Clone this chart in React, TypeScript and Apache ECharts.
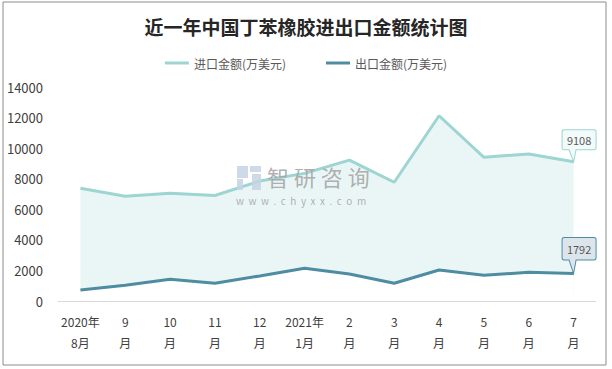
import React, { useEffect, useRef } from "react";
import * as echarts from "echarts";

const categories = ["2020年\n8月", "9\n月", "10\n月", "11\n月", "12\n月", "2021年\n1月", "2\n月", "3\n月", "4\n月", "5\n月", "6\n月", "7\n月"];
const importValues = [7380, 6850, 7050, 6900, 7850, 8350, 9220, 7770, 12120, 9400, 9620, 9108];
const exportValues = [720, 1030, 1420, 1160, 1640, 2140, 1770, 1160, 2030, 1680, 1880, 1792];
const seriesNames = ["进口金额(万美元)", "出口金额(万美元)"];
const title = "近一年中国丁苯橡胶进出口金额统计图";

const calloutPath = "path://M2,0 H32 Q34,0 34,2 V18 Q34,20 32,20 H14 L11.5,32 L7,20 H2 Q0,20 0,18 V2 Q0,0 2,0 Z";

export default function App() {
  const ref = useRef<HTMLDivElement>(null);
  useEffect(() => {
    if (!ref.current) return;
    const chart = echarts.init(ref.current, null, { renderer: "svg" });
    const font = "'Noto Sans CJK SC', 'Noto Sans', sans-serif";
    const last = categories.length - 1;
    chart.setOption({
      animation: false,
      backgroundColor: "#ffffff",
      textStyle: { fontFamily: font },
      title: {
        text: title,
        left: "center",
        top: 12,
        textStyle: { fontSize: 19, fontWeight: "bold", color: "#262626", fontFamily: font },
      },
      legend: {
        top: 52,
        left: "center",
        itemWidth: 24,
        itemHeight: 3,
        itemGap: 40,
        icon: "rect",
        textStyle: { fontSize: 12, color: "#595959", fontFamily: font },
        data: seriesNames,
      },
      graphic: [
        {
          type: "rect",
          shape: { x: 3, y: 2, width: 603, height: 363 },
          style: { fill: "none", stroke: "#8c8c8c", lineWidth: 1 },
          z: 100,
        },
        {
          type: "group",
          z: 50,
          children: [
            { type: "rect", z: 50, shape: { x: 237, y: 166, width: 11, height: 12 }, style: { fill: "#c5d3e3", opacity: 0.85 } },
            { type: "rect", z: 50, shape: { x: 237, y: 179, width: 6, height: 11 }, style: { fill: "#c5d3e3", opacity: 0.85 } },
            { type: "rect", z: 50, shape: { x: 250, y: 166, width: 11, height: 6 }, style: { fill: "#c5d3e3", opacity: 0.85 } },
            { type: "rect", z: 50, shape: { x: 252, y: 174, width: 9, height: 16 }, style: { fill: "#c5d3e3", opacity: 0.85 } },
            {
              type: "text",
              z: 50,
              x: 267,
              y: 165,
              style: { text: "智 研 咨 询", fontSize: 22, fill: "#a6a6a6", opacity: 0.9, fontFamily: font },
            },
            {
              type: "text",
              z: 50,
              x: 236,
              y: 195,
              style: { text: "w  w  w  .  c  h  y  x  x  .  c  o  m", fontSize: 10, fill: "#a6a6a6", opacity: 0.9, fontFamily: font },
            },
          ],
        },
      ],
      grid: { left: 58, right: 16, top: 87, bottom: 68 },
      xAxis: {
        type: "category",
        data: categories,
        boundaryGap: true,
        z: 10,
        axisLine: { show: true, lineStyle: { color: "#d9d9d9", width: 1 } },
        axisTick: { show: false },
        axisLabel: { color: "#404040", fontSize: 12, lineHeight: 21, margin: 10, interval: 0, fontFamily: font },
      },
      yAxis: {
        type: "value",
        min: 0,
        max: 14000,
        interval: 2000,
        axisLine: { show: false },
        axisTick: { show: false },
        splitLine: { show: false },
        axisLabel: { color: "#404040", fontSize: 13, margin: 15, fontFamily: font, formatter: (v: number) => String(v) },
      },
      series: [
        {
          name: seriesNames[0],
          type: "line",
          data: importValues,
          symbol: "none",
          z: 2,
          lineStyle: { color: "#9dd5d2", width: 3 },
          itemStyle: { color: "#9dd5d2" },
          areaStyle: { color: "#eaf6f6", opacity: 1 },
          markPoint: {
            data: [{ coord: [last, importValues[last]], value: importValues[last] }],
            symbol: calloutPath,
            symbolSize: [34, 32],
            symbolOffset: [5.5, -16],
            itemStyle: { color: "#f2fafa", borderColor: "#9dd5d2", borderWidth: 1 },
            label: { show: true, position: "inside", offset: [0, -6], color: "#595959", fontSize: 11, fontWeight: "normal", fontFamily: font },
          },
        },
        {
          name: seriesNames[1],
          type: "line",
          data: exportValues,
          symbol: "none",
          z: 3,
          lineStyle: { color: "#4e8ca1", width: 3 },
          itemStyle: { color: "#4e8ca1" },
          areaStyle: { color: "#ffffff", opacity: 1 },
          markPoint: {
            data: [{ coord: [last, exportValues[last]], value: exportValues[last] }],
            symbol: calloutPath,
            symbolSize: [34, 36],
            symbolOffset: [5.5, -18],
            itemStyle: { color: "#dde5ec", borderColor: "#4e8ca1", borderWidth: 1 },
            label: { show: true, position: "inside", offset: [0, -7], color: "#595959", fontSize: 11, fontWeight: "normal", fontFamily: font },
          },
        },
      ],
    });
    return () => chart.dispose();
  }, []);
  return <div ref={ref} style={{ width: 612, height: 369, position: "absolute", left: 0, top: 0 }} />;
}
